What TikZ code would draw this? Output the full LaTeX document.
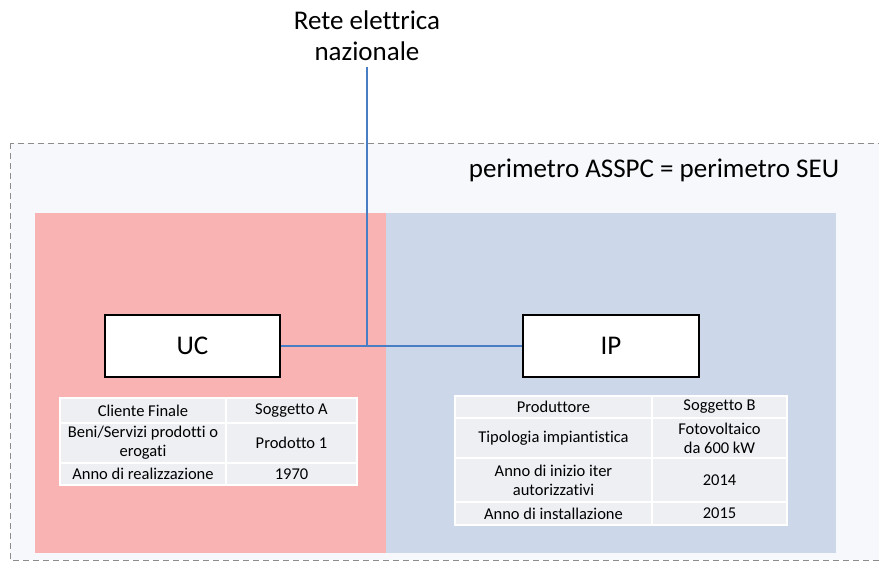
\documentclass[tikz,border=0pt]{standalone}
\usepackage{fontspec}
\setmainfont[Ligatures=NoCommon]{Carlito}
\definecolor{outerfill}{HTML}{F6F8FB}
\definecolor{ucfill}{HTML}{F9B3B3}
\definecolor{ipfill}{HTML}{CCD8E9}
\definecolor{tabfill}{HTML}{EDEFF3}
\definecolor{wirecol}{HTML}{4A7EC4}
\definecolor{dashcol}{HTML}{8C8C8C}
\tikzset{
  perimeter/.style={draw=dashcol, line width=1pt, dash pattern=on 6pt off 4pt, fill=outerfill},
  unitbox/.style={draw=black, line width=2pt, fill=white, inner sep=0pt,
    minimum height=62pt, font=\fontsize{27}{30}\selectfont},
  wire/.style={draw=wirecol, line width=2pt},
  cell/.style={draw=white, line width=1.5pt, fill=tabfill, inner sep=0pt, align=center,
    font=\fontsize{16.5}{19}\selectfont},
  bigtext/.style={font=\fontsize{27}{31}\selectfont, align=center, inner sep=0pt},
}
\begin{document}
\begin{tikzpicture}[x=1pt, y=-1pt]
\useasboundingbox (0,0) rectangle (879,562);
\clip (0,0) rectangle (879,562);

% perimeter of the system
\path[perimeter] (10,143) rectangle (900,560);
\node[bigtext] (perim) at (654,170) {perimetro ASSPC = perimetro SEU};

% consumer and producer areas
\fill[ucfill] (35,213) rectangle (386,553);
\fill[ipfill] (386,213) rectangle (836,553);

% grid connection
\node[bigtext] (rete) at (367,36) {Rete elettrica\\nazionale};

% units
\node[unitbox, minimum width=175pt] (uc) at (192.5,346) {UC};
\node[unitbox, minimum width=176pt] (ip) at (611,346) {IP};

\coordinate (junction) at (rete.south |- uc.east);
\draw[wire] (uc.east) -- (ip.west);
\draw[wire] ([yshift=-6pt]rete.south) -- (junction);

% consumer table
\node[cell, minimum width=166pt, minimum height=25pt] (la1) at (143,410.5) {Cliente Finale};
\node[cell, minimum width=131pt, minimum height=25pt] (lb1) at (291.5,410.5) {Soggetto A};
\node[cell, minimum width=166pt, minimum height=40pt] (la2) at (143,443) {Beni/Servizi prodotti o\\erogati};
\node[cell, minimum width=131pt, minimum height=40pt] (lb2) at (291.5,443) {Prodotto 1};
\node[cell, minimum width=166pt, minimum height=22pt] (la3) at (143,474) {Anno di realizzazione};
\node[cell, minimum width=131pt, minimum height=22pt] (lb3) at (291.5,474) {1970};

% producer table
\node[cell, minimum width=197pt, minimum height=22pt] (ra1) at (553.5,407) {Produttore};
\node[cell, minimum width=135pt, minimum height=22pt] (rb1) at (719.5,407) {Soggetto B};
\node[cell, minimum width=197pt, minimum height=40pt] (ra2) at (553.5,438) {Tipologia impiantistica};
\node[cell, minimum width=135pt, minimum height=40pt] (rb2) at (719.5,438) {Fotovoltaico\\da 600 kW};
\node[cell, minimum width=197pt, minimum height=44pt] (ra3) at (553.5,480) {Anno di inizio iter\\autorizzativi};
\node[cell, minimum width=135pt, minimum height=44pt] (rb3) at (719.5,480) {2014};
\node[cell, minimum width=197pt, minimum height=23pt] (ra4) at (553.5,513.5) {Anno di installazione};
\node[cell, minimum width=135pt, minimum height=23pt] (rb4) at (719.5,513.5) {2015};
\end{tikzpicture}
\end{document}
